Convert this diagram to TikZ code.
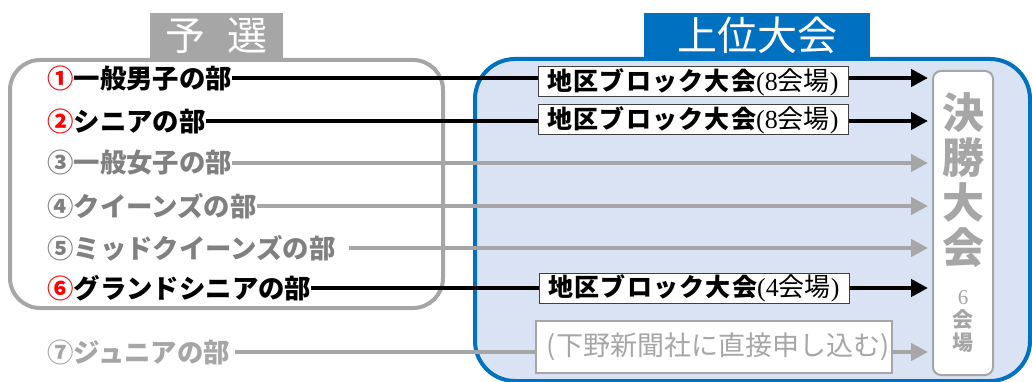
\documentclass[tikz,border=0pt]{standalone}
\usepackage{fontspec}
\usetikzlibrary{arrows.meta}
\newfontfamily\cjk{Noto Sans CJK JP}
\newfontfamily\lserif{Liberation Serif}
\definecolor{kgray}{HTML}{A6A6A6}
\definecolor{tgray}{HTML}{808080}
\definecolor{kblue}{HTML}{0070C0}
\definecolor{kbluebg}{HTML}{DAE3F3}
\newcommand{\venue}[1]{{\fontsize{26}{28}\selectfont\mdseries\lserif(#1\cjk 会場\lserif)}}

\begin{document}
\begin{tikzpicture}[x=1pt,y=-1pt,
    lbl/.style={anchor=west,inner sep=0pt,font=\cjk\bfseries\fontsize{26.4}{28}\selectfont},
    blockbox/.style={draw=black!75,fill=white,line width=1pt,minimum width=310pt,
      minimum height=30pt,inner sep=0pt,
      font=\cjk\bfseries\fontsize{25}{27}\selectfont\addfontfeature{LetterSpace=5}},
    tabbox/.style={minimum height=45pt,inner sep=0pt,text=white,
      font=\cjk\fontsize{40}{42}\selectfont},
    bline/.style={line width=4.5pt},
    gline/.style={line width=4.5pt,draw=kgray},
    arr/.style={-{Triangle[length=17pt,width=17pt]},shorten >=4pt}]
  \useasboundingbox (0,0) rectangle (1032,382);

  % frames
  \draw[kblue,fill=kbluebg,line width=4pt,rounded corners=40pt] (475,59) rectangle (1030,381);
  \draw[kgray,line width=4pt,rounded corners=30pt] (10,60) rectangle (443,308);
  \node[tabbox,fill=kgray,minimum width=133pt] (yosen) at (216.5,35.5) {予\hspace{22pt}選};
  \node[tabbox,fill=kblue,minimum width=226pt] (joui) at (757,35.5) {上位大会};

  \node[draw=kgray,line width=2pt,fill=white,rounded corners=8pt,minimum width=60pt,
    minimum height=304pt,inner sep=0pt] (final) at (963,223) {};
  \node[text=kgray,align=center,inner sep=0pt,
    font=\cjk\bfseries\fontsize{42}{45}\selectfont] (finaltxt) at (963,180) {決\\勝\\大\\会};
  \node[text=kgray,align=center,inner sep=0pt,
    font=\cjk\bfseries\fontsize{21}{23}\selectfont] (finalsub) at (963,322) {{\lserif\mdseries 6}\\会\\場};

  % divisions
  \node[lbl] (d1) at (47,78) {\textcolor{red}{①}一般男子の部};
  \node[lbl] (d2) at (47,121) {\textcolor{red}{②}シニアの部};
  \node[lbl,text=tgray] (d3) at (47,163) {③一般女子の部};
  \node[lbl,text=tgray] (d4) at (47,206) {④クイーンズの部};
  \node[lbl,text=tgray] (d5) at (47,248) {⑤ミッドクイーンズの部\kern13pt};
  \node[lbl] (d6) at (47,288) {\textcolor{red}{⑥}グランドシニアの部};
  \node[lbl,text=kgray] (d7) at (47,352) {⑦ジュニアの部\kern5pt};

  % block contests
  \node[blockbox] (b1) at (693,82) {地区ブロック大会\venue{8}};
  \node[blockbox] (b2) at (693,120) {地区ブロック大会\venue{8}};
  \node[blockbox] (b6) at (694,288.5) {地区ブロック大会\venue{4}};
  \node[draw=kgray,line width=1.5pt,fill=white,minimum width=356pt,minimum height=52pt,
    inner sep=0pt,text=kgray,font=\cjk\fontsize{27}{29}\selectfont] (b7) at (714,347)
    {\kern8pt(下野新聞社に直接申し込む)};

  \draw[bline] (d1.east) -- (d1.east -| b1.west);
  \draw[bline,arr] (d1.east -| b1.east) -- (d1.east -| final.west);
  \draw[bline] (d2.east) -- (d2.east -| b2.west);
  \draw[bline,arr] (d2.east -| b2.east) -- (d2.east -| final.west);
  \draw[gline,arr] (d3.east) -- (d3.east -| final.west);
  \draw[gline,arr] (d4.east) -- (d4.east -| final.west);
  \draw[gline,arr] (d5.east) -- (d5.east -| final.west);
  \draw[bline] (d6.east) -- (d6.east -| b6.west);
  \draw[bline,arr] (d6.east -| b6.east) -- (d6.east -| final.west);
  \draw[gline] (d7.east) -- (d7.east -| b7.west);
  \draw[gline,arr] (d7.east -| b7.east) -- (d7.east -| final.west);
\end{tikzpicture}
\end{document}
